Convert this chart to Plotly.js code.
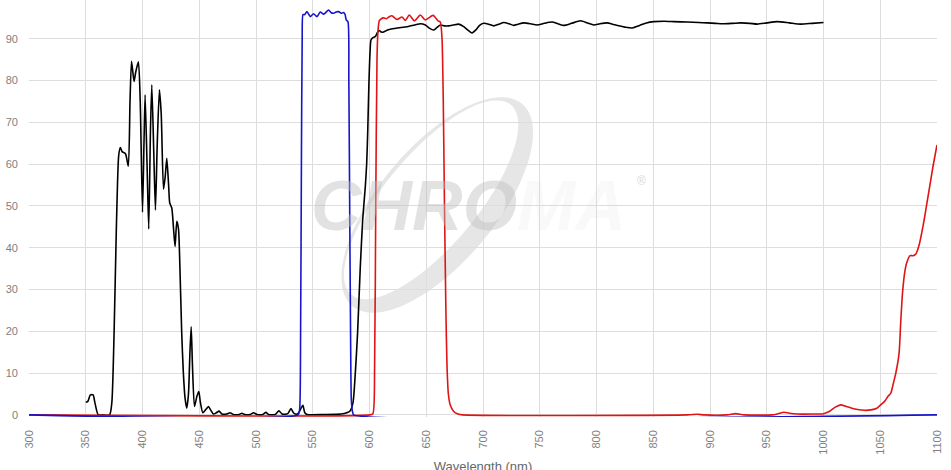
<!DOCTYPE html>
<html>
<head>
<meta charset="utf-8">
<script src="https://cdn.plot.ly/plotly-3.0.1.min.js"></script>
<style>
  html, body { margin: 0; padding: 0; background: #fff; overflow: hidden; width: 951px; height: 470px; position: relative; }
  #chart { position: absolute; left: 0; top: -3px; width: 951px; height: 477px; }
</style>
</head>
<body>
<div id="chart"></div>
<script>
// ---- Data ----
const blackX = [350,352,354,356.5,358,361,365,371,373,375,377,379,380.5,382,385,387.5,389,390.3,391.5,392.6,394,396.4,398,400,401.3,402.3,404,405.5,407,408.2,410,411.4,413,414.9,416.5,418.5,420,421.4,423,424,425.8,427.5,428.7,430.2,431.7,433,434.5,436,437.5,439,440.5,441.8,442.9,444,445.8,448,449.6,451,453.2,455.5,458.1,460,462.5,465,467.5,470,474,477.2,480,485,487.6,490,495,497.8,501,506,508.7,511,517,520.2,523,528,530.8,533,534.6,537,539.5,541.3,543,545,560,575,580,583,585.5,587.5,589.5,591.9,594,596.3,597.5,598.4,599.5,600.5,601.3,603,605,607,608.5,610.5,612.4,615,618.3,625,633,640,644.8,649.2,653,656.5,659,662.4,666,669.8,674,678.6,683,687,690.4,694,697,700.6,705,709.4,714,718.3,723,727.1,731,735.9,742,747.7,754,760.9,766,771.2,778,785.9,792,797.6,803,809.4,814,819.7,825,831.5,838,844,850.5,860,868.2,880,890,897.6,905,912.3,920,927,935,941.7,950,959.3,970,979.9,990,1000];
const blackY = [3.0,3.3,4.8,4.8,3.0,0,0,0,3,20,45,62,64,63,62.5,59.5,75,84.6,82,79.8,82,84.5,75,48.5,65,76.6,60,44.5,68,79,62,49,65,77.8,72,54,57,61.4,55,50.7,49.5,44,40.3,46.3,44.5,35,20,10,4,1.6,5,15,21.1,12,2.0,4.5,5.6,3,0.5,1.2,2.0,1.2,0.2,0.5,0.9,0.2,0.2,0.5,0.1,0.1,0.4,0.1,0.1,0.5,0.1,0.1,0.6,0.1,0.1,1.0,0.2,0.3,1.5,0.5,0.2,0.3,1.5,2.3,0.5,0.1,0.1,0.2,0.5,1.0,3,10,19.6,35.5,46.7,54.6,60,67.4,79.4,87,89.7,90.3,90.5,91.5,92.0,91.6,91.6,92.0,92.3,92.6,92.9,93.3,93.6,93.3,92.5,92.1,92.6,93.3,93.1,93.1,93.3,93.5,92.9,92.0,91.4,92.2,93.2,93.7,93.5,93.1,93.5,93.9,93.6,93.2,93.5,93.8,93.6,93.3,93.7,94.0,93.6,93.2,93.7,94.3,93.8,93.3,93.6,93.8,93.5,93.1,92.8,92.6,93.2,93.8,94.1,94.2,94.1,94.0,93.9,93.8,93.7,93.6,93.7,93.8,93.7,93.5,93.8,94.1,93.8,93.5,93.7,93.9];

const redX = [300,600,603,604.5,605.5,606.6,607.5,608.6,609.5,612,615,617,619.8,624.2,628.6,631.6,635,639.5,644.8,649.2,656,660.4,662.4,663.9,665,666,667.3,668.3,669.5,671,674.2,678,682,880,889,895,915,922.6,930,955,960,965.2,970,977,990,1000,1005,1010,1015.2,1020,1025,1030,1035.7,1042,1047,1050.4,1054,1057,1059.3,1061.5,1063.7,1066.6,1068,1069.6,1071.5,1073.2,1076.3,1079,1081.4,1084.3,1086.5,1088.7,1091,1093.1,1096.5,1100];
const redY = [0,0,0.3,11.6,50,85,92,94.3,94.6,95.0,94.8,95.2,95.5,94.6,95.2,94.4,95.7,94.3,95.7,94.5,95.6,94.3,94.0,90,75,51.5,25,11.6,5,2.5,0.8,0.2,0,0,0.15,0,0,0.3,0,0,0.3,0.65,0.4,0.2,0.2,0.3,0.8,1.8,2.4,2.0,1.6,1.3,1.1,1.2,1.6,2.4,3.3,4.5,5.2,7.5,10,14.8,22,29.1,34,36.3,38.1,38.1,38.5,40.7,43.5,46.7,50.5,53.9,59.5,64.6];

const blueX = [300,537,538.4,539.3,540,540.7,541.4,543,544.9,547.8,550.7,553.7,556.6,559.5,561.5,563.9,566,568.3,570.5,572.8,575,577.2,578.5,579.5,581,581.8,582.5,583.3,584,585,586,1100];
const blueY = [0,0,1.2,20,60,90,95.8,95.8,96.5,95.3,96.0,95.3,96.4,95.9,96.3,96.9,96.3,96.1,96.4,96.5,96.1,96.3,95.8,94.5,94.1,80,51.5,20,3.6,0.8,0,0];

const xTickVals = [300,350,400,450,500,550,600,650,700,750,800,850,900,950,1000,1050,1100];
const yTickVals = [0,10,20,30,40,50,60,70,80,90,100];

// ---- Watermark swoosh (decorative, built in page pixels, converted to data coords) ----
function pxToData(px, py) {
  return [300 + (px - 29) * 800 / 907.5, (415 - py) * 100 / 418];
}
function ellipsePath(cx, cy, a, b, angDeg, n, reverse) {
  const th = angDeg * Math.PI / 180;
  const u = [Math.cos(th), -Math.sin(th)];
  const v = [Math.sin(th), Math.cos(th)];
  let s = '';
  for (let i = 0; i <= n; i++) {
    let t = 2 * Math.PI * i / n;
    if (reverse) t = -t;
    const px = cx + a * Math.cos(t) * u[0] + b * Math.sin(t) * v[0];
    const py = cy + a * Math.cos(t) * u[1] + b * Math.sin(t) * v[1];
    const d = pxToData(px, py);
    s += (i === 0 ? 'M' : 'L') + d[0].toFixed(2) + ',' + d[1].toFixed(2) + ' ';
  }
  return s + 'Z ';
}
const swoosh = ellipsePath(437, 205, 132, 58, 50, 90, false) +
               ellipsePath(437 - 8 * 0.766, 205 - 8 * 0.643, 124, 46, 50, 90, true);

const lineW = 1.6;
const traces = [
  { x: blackX, y: blackY, type: 'scatter', mode: 'lines', line: { color: '#000000', width: lineW, shape: 'spline', smoothing: 0.6 }, hoverinfo: 'skip' },
  { x: redX, y: redY, type: 'scatter', mode: 'lines', line: { color: '#e01414', width: lineW, shape: 'spline', smoothing: 0.6 }, hoverinfo: 'skip' },
  { x: blueX, y: blueY, type: 'scatter', mode: 'lines', line: { color: '#1616c8', width: lineW, shape: 'spline', smoothing: 0.6 }, hoverinfo: 'skip' }
];

const tickFont = { family: 'Liberation Sans, Arial, sans-serif', size: 11, color: '#808080' };
const layout = {
  width: 951, height: 477,
  margin: { l: 29, r: 14, t: 0, b: 57, pad: 0 },
  paper_bgcolor: '#ffffff', plot_bgcolor: '#ffffff',
  showlegend: false,
  xaxis: {
    range: [300, 1100], tickvals: xTickVals, ticktext: xTickVals.map(String),
    tickangle: -90, tickfont: tickFont, ticklabelstandoff: 10,
    showgrid: true, gridcolor: '#dddddd', gridwidth: 1,
    zeroline: false, showline: false, ticks: '',
    title: { text: 'Wavelength (nm)', font: { family: 'Liberation Sans, Arial, sans-serif', size: 13, color: '#666666' }, standoff: 16 },
    automargin: false, fixedrange: true
  },
  yaxis: {
    range: [-0.5, 100], tickvals: yTickVals, ticktext: yTickVals.map(String),
    tickfont: tickFont, ticklabelstandoff: 10,
    showgrid: true, gridcolor: '#dddddd', gridwidth: 1,
    zeroline: false, showline: false, ticks: '',
    automargin: false, fixedrange: true
  },
  shapes: [
    { type: 'path', xref: 'x', yref: 'y', path: swoosh, fillcolor: 'rgba(205,205,205,0.5)', line: { width: 0 }, layer: 'below' }
  ],
  annotations: [
    { xref: 'x', yref: 'y', x: 687, y: 50, text: 'CHRO<span style="color:rgba(215,215,215,0.35)">MA</span>', showarrow: false,
      font: { family: 'Liberation Sans, Arial', size: 70, color: 'rgba(190,190,190,0.45)', weight: 'bold', style: 'italic' } },
    { xref: 'x', yref: 'y', x: 840, y: 56, text: '®', showarrow: false,
      font: { family: 'Liberation Sans, Arial', size: 12, color: 'rgba(190,190,190,0.6)' } }
  ]
};

Plotly.newPlot('chart', traces, layout, { displayModeBar: false, staticPlot: true });
</script>
</body>
</html>
